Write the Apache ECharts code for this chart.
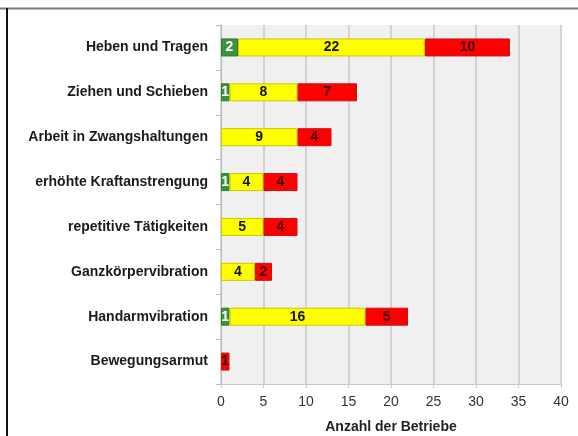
<!DOCTYPE html>
<html>
<head>
<meta charset="utf-8">
<script src="https://cdn.jsdelivr.net/npm/echarts@6/dist/echarts.min.js"></script>
<style>html,body{margin:0;padding:0;background:#fff;}#c{width:578px;height:436px;}</style>
</head>
<body>
<div id="c"></div>
<script>
const categories = ["Heben und Tragen","Ziehen und Schieben","Arbeit in Zwangshaltungen","erhöhte Kraftanstrengung","repetitive Tätigkeiten","Ganzkörpervibration","Handarmvibration","Bewegungsarmut"];
const greenValues = [2,1,null,1,null,null,1,null];
const yellowValues = [22,8,9,4,5,4,16,null];
const redValues = [10,7,4,4,4,2,5,1];
const xTicks = [0,5,10,15,20,25,30,35,40];

const font = "Liberation Sans, Arial, sans-serif";
const chart = echarts.init(document.getElementById('c'), null, {renderer:'canvas'});
function ser(name, data, color, border, labelColor){
  return {
    name, type:'bar', stack:'s', data, barWidth:18,
    itemStyle:{color, borderColor:border, borderWidth:1},
    label:{show:true, position:'inside', color:labelColor, fontFamily:font, fontWeight:'bold', fontSize:14,
      formatter:p=>p.value==null?'':String(p.value)},
    emphasis:{disabled:true}
  };
}
chart.setOption({
  animation:false,
  backgroundColor:'#ffffff',
  grid:{left:221, right:17, top:25, bottom:52, show:true, backgroundColor:'#f0f0f0', borderWidth:0,
    containLabel:false, outerBoundsMode:'none'},
  xAxis:{type:'value', min:xTicks[0], max:xTicks[xTicks.length-1], interval:5,
    axisLine:{show:true, lineStyle:{color:'#c8c8c8', width:1}},
    axisTick:{show:true, length:4, lineStyle:{color:'#c8c8c8'}},
    axisLabel:{color:'#333', fontFamily:font, fontSize:14, margin:11},
    splitLine:{show:true, lineStyle:{color:'#c8c8c8', width:1.5}},
    name:'Anzahl der Betriebe', nameLocation:'middle', nameGap:36,
    nameTextStyle:{color:'#222', fontFamily:font, fontWeight:'bold', fontSize:14}
  },
  yAxis:{type:'category', data:categories, inverse:true,
    axisLine:{show:true, lineStyle:{color:'#bbbbbb', width:1}},
    axisTick:{show:true, length:5, lineStyle:{color:'#bbbbbb'}},
    axisLabel:{color:'#1a1a1a', fontFamily:font, fontWeight:'bold', fontSize:14, margin:13}
  },
  series:[
    ser('grün', greenValues, '#3b943b', '#2f7a2f', '#ffffff'),
    ser('gelb', yellowValues, '#ffff00', '#c8c800', '#111111'),
    ser('rot', redValues, '#ff0000', '#cc1010', '#3a0000')
  ],
  graphic:[
    {type:'line', shape:{x1:0, y1:8.5, x2:578, y2:8.5}, style:{stroke:'#7a7a7a', lineWidth:2}},
    {type:'line', shape:{x1:7, y1:8, x2:7, y2:436}, style:{stroke:'#111111', lineWidth:2}}
  ]
});
</script>
</body>
</html>
